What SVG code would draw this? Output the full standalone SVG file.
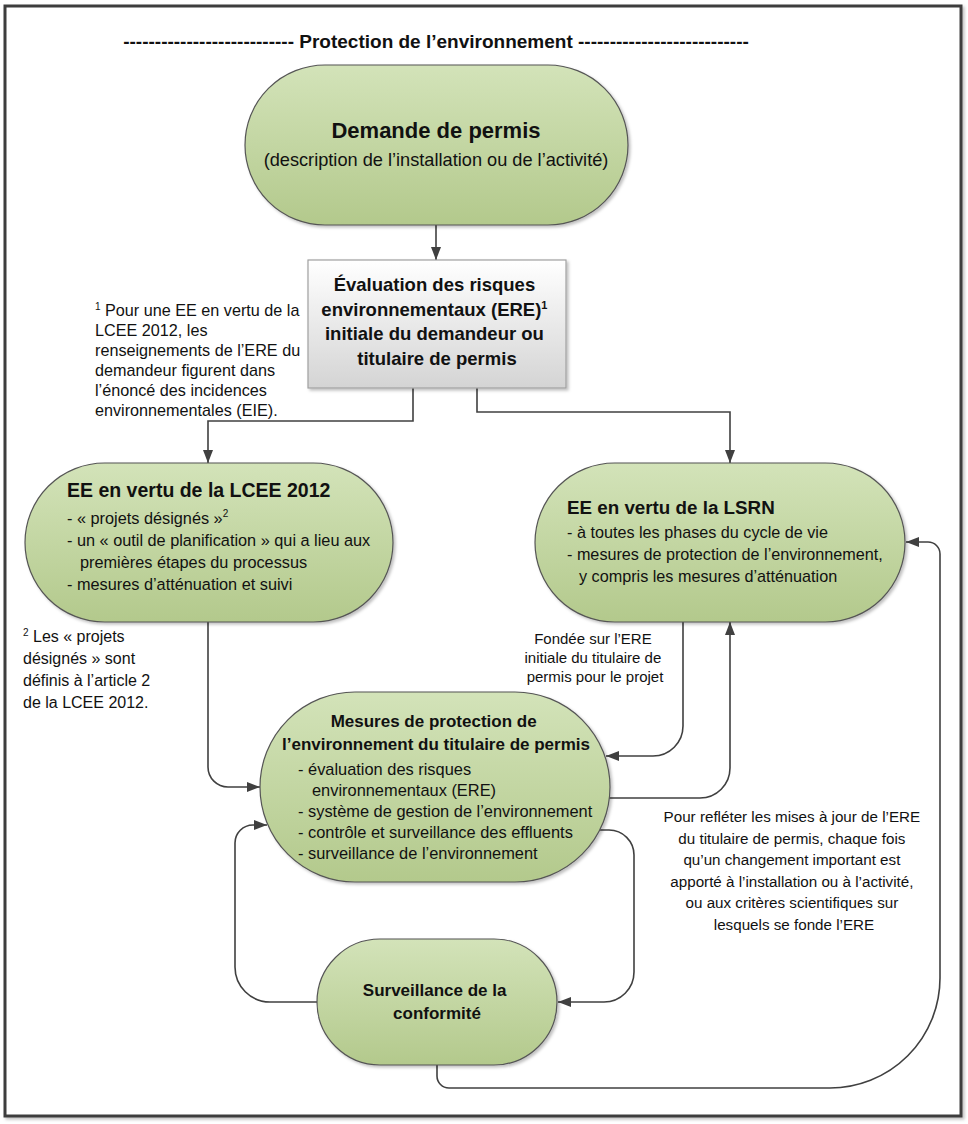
<svg xmlns="http://www.w3.org/2000/svg" width="968" height="1124" viewBox="0 0 968 1124">
<style>
text{font-family:"Liberation Sans",Arial,sans-serif;fill:#111}
.b{font-weight:bold}
.node{fill:url(#g);stroke:#555;stroke-width:1.2}
.conn{fill:none;stroke:#404040;stroke-width:1.6}
</style>
<defs>
<linearGradient id="g" x1="0" y1="0" x2="0" y2="1">
<stop offset="0" stop-color="#d3e3b9"/>
<stop offset="1" stop-color="#b3c98c"/>
</linearGradient>
<linearGradient id="gg" x1="0" y1="0" x2="0" y2="1">
<stop offset="0" stop-color="#ffffff"/>
<stop offset="1" stop-color="#d4d4d4"/>
</linearGradient>
<filter id="sh" x="-10%" y="-10%" width="130%" height="130%">
<feDropShadow dx="2" dy="2" stdDeviation="1.5" flood-color="#000" flood-opacity="0.25"/>
</filter>
<marker id="ar" markerUnits="userSpaceOnUse" markerWidth="13" markerHeight="10" viewBox="0 0 13 10" refX="13" refY="5" orient="auto">
<path d="M0,0 L13,5 L0,10 Z" fill="#404040"/>
</marker>
</defs>
<rect x="0" y="0" width="968" height="1124" fill="#fff"/>
<rect x="5" y="6" width="956" height="1110" fill="#fff" stroke="#3c3c3c" stroke-width="3" filter="url(#sh)"/>
<text class="b" x="436" y="48" font-size="19" text-anchor="middle">--------------------------- Protection de l’environnement ---------------------------</text>

<g id="connectors">
<path class="conn" d="M436,225 V260" marker-end="url(#ar)"/>
<path class="conn" d="M413,388 V421 H208 V463" marker-end="url(#ar)"/>
<path class="conn" d="M477,388 V412 H730 V463" marker-end="url(#ar)"/>
<path class="conn" d="M208,622 V767 A20,20 0 0 0 228,787 H260" marker-end="url(#ar)"/>
<path class="conn" d="M683,622 V726 A30,30 0 0 1 653,756 H606" marker-end="url(#ar)"/>
<path class="conn" d="M609,798 H700 A30,30 0 0 0 730,768 V622" marker-end="url(#ar)"/>
<path class="conn" d="M600,830 H609 A25,25 0 0 1 634,855 V972 A30,30 0 0 1 604,1002 H558" marker-end="url(#ar)"/>
<path class="conn" d="M317,1002 H270 A35,35 0 0 1 235,967 V843 A18,18 0 0 1 253,825 H267" marker-end="url(#ar)"/>
<path class="conn" d="M437,1065 V1076 A12,12 0 0 0 449,1088 H830 A110,110 0 0 0 940,978 V554 A12,12 0 0 0 928,542 H906" marker-end="url(#ar)"/>
</g>

<g id="demande">
<rect class="node" x="245" y="65" width="383" height="160" rx="80" ry="80" filter="url(#sh)"/>
<text class="b" x="436" y="138" font-size="22" text-anchor="middle">Demande de permis</text>
<text x="436" y="166" font-size="18.2" text-anchor="middle">(description de l’installation ou de l’activité)</text>
</g>

<g id="ere">
<rect x="308" y="260" width="258" height="128" fill="url(#gg)" stroke="#a0a0a0" stroke-width="1.2" filter="url(#sh)"/>
<text class="b" font-size="18.5" text-anchor="middle">
<tspan x="437" y="291">Évaluation des risques</tspan>
<tspan x="437" y="316">environnementaux (ERE)<tspan font-size="11" dy="-7">1</tspan></tspan>
<tspan x="437" y="340">initiale du demandeur ou</tspan>
<tspan x="437" y="365">titulaire de permis</tspan>
</text>
</g>

<g id="note1">
<text font-size="16.2">
<tspan x="95" y="316"><tspan font-size="10" dy="-6">1</tspan><tspan dy="6"> Pour une EE en vertu de la</tspan></tspan>
<tspan x="95" y="336">LCEE 2012, les</tspan>
<tspan x="95" y="356">renseignements de l’ERE du</tspan>
<tspan x="95" y="376">demandeur figurent dans</tspan>
<tspan x="95" y="396">l’énoncé des incidences</tspan>
<tspan x="95" y="416">environnementales (EIE).</tspan>
</text>
</g>

<g id="lcee">
<rect class="node" x="25" y="463" width="368" height="159" rx="79.5" ry="79.5" filter="url(#sh)"/>
<text class="b" x="67" y="497" font-size="19.5">EE en vertu de la LCEE 2012</text>
<text font-size="16.3">
<tspan x="67" y="524">- « projets désignés »<tspan font-size="10" dy="-7">2</tspan></tspan>
<tspan x="67" y="546">- un « outil de planification » qui a lieu aux</tspan>
<tspan x="80" y="568">premières étapes du processus</tspan>
<tspan x="67" y="590">- mesures d’atténuation et suivi</tspan>
</text>
</g>

<g id="note2">
<text font-size="16">
<tspan x="23" y="642"><tspan font-size="10" dy="-6">2</tspan><tspan dy="6"> Les « projets</tspan></tspan>
<tspan x="23" y="664">désignés » sont</tspan>
<tspan x="23" y="686">définis à l’article 2</tspan>
<tspan x="23" y="708">de la LCEE 2012.</tspan>
</text>
</g>

<g id="lsrn">
<rect class="node" x="535" y="463" width="370" height="159" rx="79.5" ry="79.5" filter="url(#sh)"/>
<text class="b" x="567" y="514" font-size="18.8">EE en vertu de la LSRN</text>
<text font-size="16.2">
<tspan x="567" y="538">- à toutes les phases du cycle de vie</tspan>
<tspan x="567" y="560">- mesures de protection de l’environnement,</tspan>
<tspan x="579" y="582">y compris les mesures d’atténuation</tspan>
</text>
</g>

<g id="label-fondee">
<text font-size="15" text-anchor="middle">
<tspan x="595" y="644">Fondée sur l’ERE</tspan>
<tspan x="595" y="663">initiale du titulaire de</tspan>
<tspan x="595" y="682">permis pour le projet</tspan>
</text>
</g>

<g id="mesures">
<rect class="node" x="260" y="692" width="350" height="190" rx="95" ry="95" filter="url(#sh)"/>
<text class="b" font-size="17" text-anchor="middle">
<tspan x="436" y="727">Mesures de protection de</tspan>
<tspan x="436" y="750">l’environnement du titulaire de permis</tspan>
</text>
<text font-size="16.4">
<tspan x="298" y="775">- évaluation des risques</tspan>
<tspan x="312" y="796">environnementaux (ERE)</tspan>
<tspan x="298" y="817">- système de gestion de l’environnement</tspan>
<tspan x="298" y="838">- contrôle et surveillance des effluents</tspan>
<tspan x="298" y="859">- surveillance de l’environnement</tspan>
</text>
</g>

<g id="label-maj">
<text font-size="15.2" text-anchor="middle">
<tspan x="794" y="822">Pour refléter les mises à jour de l’ERE</tspan>
<tspan x="794" y="844">du titulaire de permis, chaque fois</tspan>
<tspan x="794" y="865">qu’un changement important est</tspan>
<tspan x="794" y="887">apporté à l’installation ou à l’activité,</tspan>
<tspan x="794" y="908">ou aux critères scientifiques sur</tspan>
<tspan x="794" y="930">lesquels se fonde l’ERE</tspan>
</text>
</g>

<g id="surveillance">
<rect class="node" x="317" y="939" width="240" height="126" rx="63" ry="63" filter="url(#sh)"/>
<text class="b" font-size="17" text-anchor="middle">
<tspan x="437" y="996">Surveillance de la</tspan>
<tspan x="437" y="1019">conformité</tspan>
</text>
</g>
</svg>
